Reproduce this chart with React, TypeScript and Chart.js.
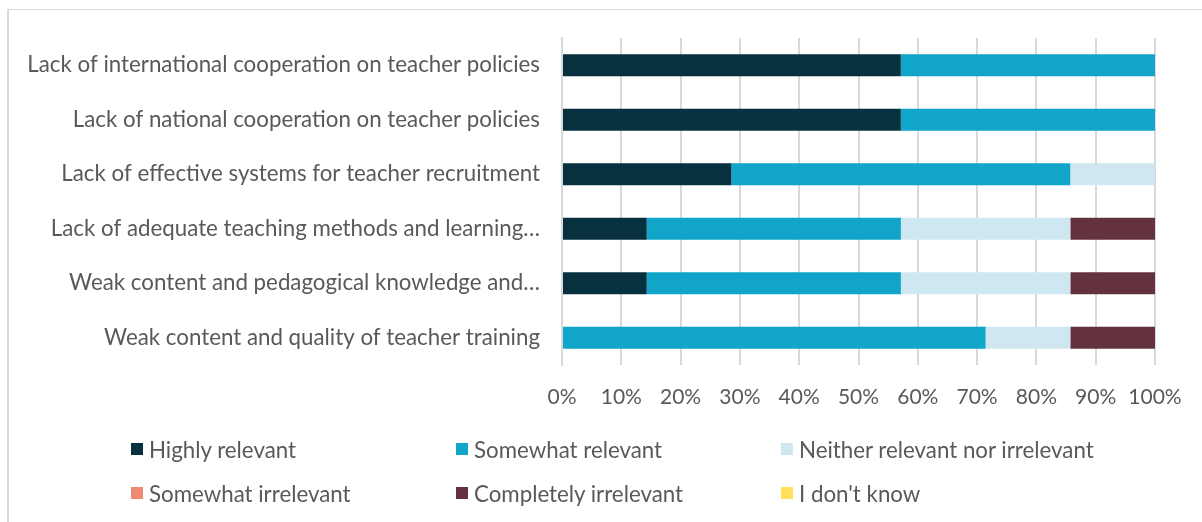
import React, { useEffect, useRef } from "react";
import { Chart, registerables } from "chart.js";

Chart.register(...registerables);

const categories = [
  "Lack of international cooperation on teacher policies",
  "Lack of national cooperation on teacher policies",
  "Lack of effective systems for teacher recruitment",
  "Lack of adequate teaching methods and learning…",
  "Weak content and pedagogical knowledge and…",
  "Weak content and quality of teacher training",
];

const seriesNames = [
  "Highly relevant",
  "Somewhat relevant",
  "Neither relevant nor irrelevant",
  "Somewhat irrelevant",
  "Completely irrelevant",
  "I don't know",
];

const highlyRelevant = [57.14, 57.14, 28.57, 14.29, 14.29, 0];
const somewhatRelevant = [42.86, 42.86, 57.14, 42.86, 42.86, 71.43];
const neitherRelevant = [0, 0, 14.29, 28.57, 28.57, 14.29];
const somewhatIrrelevant = [0, 0, 0, 0, 0, 0];
const completelyIrrelevant = [0, 0, 0, 14.29, 14.29, 14.29];
const dontKnow = [0, 0, 0, 0, 0, 0];

const xTickValues = [0, 10, 20, 30, 40, 50, 60, 70, 80, 90, 100];

const colors = ["#08313f", "#11a5ca", "#cfe7f1", "#ee8a74", "#64323f", "#ffe15a"];

const FONT = "Lato, 'Open Sans', sans-serif";
const TEXT = "#595959";

export default function App() {
  const ref = useRef<HTMLCanvasElement | null>(null);

  useEffect(() => {
    if (!ref.current) return;
    const values = [
      highlyRelevant,
      somewhatRelevant,
      neitherRelevant,
      somewhatIrrelevant,
      completelyIrrelevant,
      dontKnow,
    ];
    const chart = new Chart(ref.current, {
      type: "bar",
      data: {
        labels: categories,
        datasets: seriesNames.map((name, i) => ({
          label: name,
          data: values[i],
          backgroundColor: colors[i],
          borderWidth: 0,
          categoryPercentage: 1,
          barPercentage: 0.4,
        })),
      },
      options: {
        indexAxis: "y",
        animation: false,
        responsive: false,
        devicePixelRatio: 1,
        layout: { padding: { top: 38, right: 47, left: 0, bottom: 0 } },
        plugins: {
          legend: { display: false },
          tooltip: { enabled: false },
        },
        scales: {
          x: {
            stacked: true,
            min: 0,
            max: 100,
            afterFit: (s: any) => {
              s.height = 522 - 365;
            },
            afterBuildTicks: (s: any) => {
              s.ticks = xTickValues.map((v) => ({ value: v }));
            },
            grid: { color: "#d9d9d9", lineWidth: 2, drawTicks: false },
            border: { display: false },
            ticks: {
              padding: 20,
              color: TEXT,
              font: { family: FONT, size: 21 },
              maxRotation: 0,
              minRotation: 0,
              autoSkip: false,
              callback: (v: any) => v + "%",
            },
          },
          y: {
            stacked: true,
            afterFit: (s: any) => {
              s.width = 562;
            },
            grid: { display: false, drawTicks: false },
            border: { display: true, color: "#d9d9d9", width: 2 },
            ticks: {
              padding: 22,
              color: TEXT,
              font: { family: FONT, size: 22.3 },
            },
          },
        },
      },
    });
    return () => chart.destroy();
  }, []);

  const legendPos = [
    [131, 449],
    [456, 449],
    [781, 449],
    [131, 493],
    [456, 493],
    [781, 493],
  ];

  return (
    <div
      style={{
        position: "fixed",
        left: 0,
        top: 0,
        width: 1202,
        height: 522,
        overflow: "hidden",
        background: "#fff",
      }}
    >
      <div
        style={{
          position: "absolute",
          left: 7,
          top: 9,
          width: 1300,
          height: 600,
          borderLeft: "2px solid #d9d9d9",
          borderTop: "1px solid #d9d9d9",
        }}
      />
      <canvas
        ref={ref}
        width={1202}
        height={522}
        style={{ position: "absolute", left: 0, top: 0, width: 1202, height: 522 }}
      />
      {seriesNames.map((name, i) => (
        <div
          key={name}
          style={{
            position: "absolute",
            left: legendPos[i][0],
            top: legendPos[i][1] - 15,
            height: 30,
            display: "flex",
            alignItems: "center",
            fontFamily: FONT,
            fontSize: 22.3,
            color: TEXT,
            whiteSpace: "nowrap",
          }}
        >
          <span
            style={{
              display: "inline-block",
              width: 12,
              height: 12,
              background: colors[i],
              marginRight: 6,
            }}
          />
          <span>{name}</span>
        </div>
      ))}
    </div>
  );
}
